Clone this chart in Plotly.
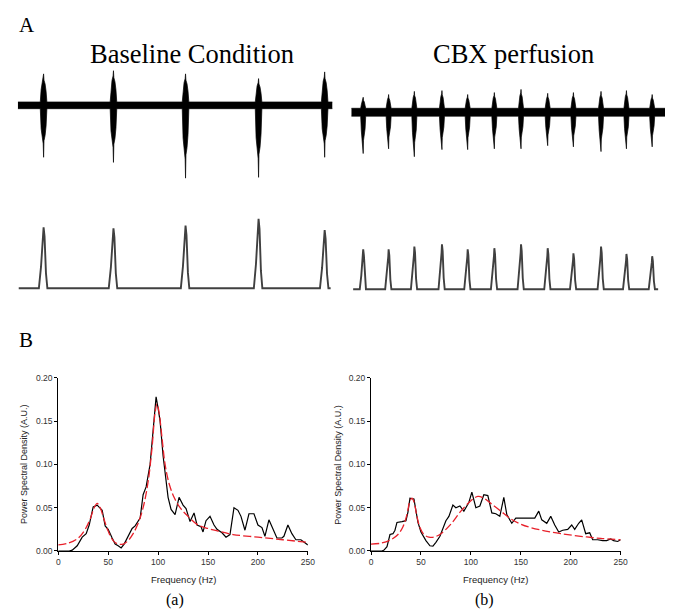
import plotly.graph_objects as go

W, H = 675, 616

# ---------------- Data ----------------
# Panel B (a): baseline power spectrum
FREQ_A = [0, 4, 8, 11, 14, 19, 24, 28, 31, 35, 39, 42, 44, 47, 50, 54, 57, 60, 63, 66, 70, 74, 77,
          82, 85, 88, 92, 95, 98, 100, 102, 105, 108, 110, 113, 117, 121, 125, 128, 132, 136, 139,
          143, 145, 148, 152, 156, 159, 164, 168, 172, 176, 180, 183, 187, 191, 196, 200, 204, 207,
          211, 214, 219, 224, 226, 230, 234, 238, 243, 250]
PSD_A = [0, 0, 0, 0, 0.001, 0.006, 0.016, 0.020, 0.030, 0.051, 0.053, 0.050, 0.047, 0.029, 0.025,
         0.015, 0.008, 0.006, 0.0035, 0.008, 0.018, 0.026, 0.029, 0.038, 0.065, 0.074, 0.100, 0.140,
         0.178, 0.165, 0.150, 0.110, 0.078, 0.062, 0.048, 0.042, 0.062, 0.053, 0.049, 0.034, 0.044,
         0.030, 0.028, 0.022, 0.035, 0.040, 0.030, 0.025, 0.021, 0.016, 0.019, 0.050, 0.047, 0.040,
         0.024, 0.043, 0.043, 0.030, 0.027, 0.017, 0.036, 0.028, 0.015, 0.015, 0.017, 0.030, 0.020,
         0.013, 0.013, 0.007]
FIT_FREQ_A = [0, 10, 20, 27, 32, 36, 39, 42, 46, 50, 55, 60, 65, 70, 75, 80, 85, 90, 94, 97, 99, 101,
              104, 107, 111, 116, 122, 130, 140, 150, 160, 175, 200, 225, 250]
FIT_A = [0.007, 0.009, 0.015, 0.025, 0.037, 0.050, 0.055, 0.050, 0.036, 0.023, 0.012, 0.008, 0.008,
         0.012, 0.020, 0.032, 0.050, 0.080, 0.120, 0.160, 0.170, 0.160, 0.130, 0.100, 0.078, 0.062,
         0.050, 0.040, 0.030, 0.026, 0.023, 0.019, 0.016, 0.013, 0.010]

# Panel B (b): CBX power spectrum
FREQ_B = [0, 4, 8, 11, 13, 16, 19, 22, 24, 26, 31, 35, 37, 39, 43, 45, 47, 50, 55, 59, 62, 65, 69,
          75, 78, 82, 85, 89, 93, 98, 101, 105, 109, 113, 117, 121, 125, 129, 133, 136, 141, 145,
          151, 156, 164, 168, 171, 176, 180, 184, 188, 192, 197, 201, 204, 208, 211, 215, 219, 222,
          227, 232, 236, 240, 243, 247, 250]
PSD_B = [0, 0, 0, 0, 0.001, 0.005, 0.019, 0.020, 0.024, 0.033, 0.034, 0.035, 0.045, 0.061, 0.060,
         0.045, 0.033, 0.022, 0.012, 0.006, 0.0055, 0.010, 0.017, 0.035, 0.040, 0.053, 0.050, 0.052,
         0.046, 0.056, 0.068, 0.050, 0.052, 0.065, 0.064, 0.044, 0.043, 0.040, 0.062, 0.042, 0.032,
         0.038, 0.038, 0.0385, 0.038, 0.046, 0.036, 0.032, 0.040, 0.030, 0.022, 0.024, 0.025, 0.030,
         0.025, 0.032, 0.036, 0.020, 0.021, 0.013, 0.013, 0.012, 0.012, 0.014, 0.012, 0.011, 0.013]
FIT_FREQ_B = [0, 10, 20, 27, 32, 36, 39, 41, 43, 46, 49, 53, 58, 63, 70, 80, 90, 100, 107, 113, 120,
              130, 140, 150, 160, 175, 190, 210, 230, 250]
FIT_B = [0.008, 0.009, 0.013, 0.019, 0.028, 0.042, 0.058, 0.061, 0.057, 0.040, 0.027, 0.019, 0.016,
         0.016, 0.020, 0.031, 0.046, 0.058, 0.063, 0.061, 0.055, 0.046, 0.037, 0.031, 0.027, 0.023,
         0.020, 0.017, 0.0145, 0.013]

# Panel A: recordings (time in s, raw in mV-like units, integrated in a.u.)
BASE_BURST_T = [0.82, 3.04, 5.33, 7.65, 9.75]
BASE_RAW_UP = [0.80, 0.88, 0.80, 0.68, 0.85]
BASE_RAW_DOWN = [1.32, 1.45, 1.85, 1.83, 1.32]
BASE_INT_PEAK = [1.07, 1.05, 1.10, 1.22, 1.02]
BASE_RAW_NOISE = 0.085

CBX_BURST_T = [0.38, 1.19, 2.01, 2.89, 3.71, 4.56, 5.41, 6.26, 7.08, 7.96, 8.77, 9.59]
CBX_RAW_UP = [0.38, 0.45, 0.53, 0.55, 0.45, 0.50, 0.58, 0.48, 0.50, 0.53, 0.55, 0.45]
CBX_RAW_DOWN = [1.05, 0.93, 1.13, 0.95, 0.95, 0.93, 0.93, 0.85, 0.88, 1.00, 0.93, 0.88]
CBX_INT_PEAK = [0.70, 0.70, 0.75, 0.79, 0.70, 0.72, 0.79, 0.72, 0.63, 0.75, 0.62, 0.58]
CBX_RAW_NOISE = 0.10

# ---------------- Styles / shapes ----------------
RAW_OFFS = [-1.0, -0.75, -0.45, -0.12, 0.0, 0.12, 0.45, 0.75, 1.0]
RAW_UP_FRAC = [0, 0.5, 0.72, 0.85, 1.0, 0.8, 0.68, 0.45, 0]
RAW_DOWN_FRAC = [0, 0.45, 0.65, 0.74, 1.0, 0.68, 0.58, 0.4, 0]
INT_OFFS = [-1.0, -0.55, -0.3, -0.1, 0.0, 0.2, 0.5, 0.8]
INT_FRAC = [0, 0.35, 0.68, 0.82, 1.0, 0.85, 0.25, 0]

SANS = "Liberation Sans, Arial, sans-serif"
SERIF = "Liberation Serif, Times New Roman, serif"


def px(p):
    return p / W


def py(p):
    return 1 - p / H


def raw_envelope(times, ups, downs, noise, t0, t1, hw):
    xs, upper, lower = [t0], [noise], [-noise]
    for t, u, d in zip(times, ups, downs):
        for o, fu, fd in zip(RAW_OFFS, RAW_UP_FRAC, RAW_DOWN_FRAC):
            xs.append(t + o * hw)
            upper.append(max(noise, fu * u))
            lower.append(-max(noise, fd * d))
    xs.append(t1)
    upper.append(noise)
    lower.append(-noise)
    return xs, upper, lower


def int_curve(times, peaks, t0, t1, hw):
    xs, ys = [t0], [0]
    for t, p in zip(times, peaks):
        for o, f in zip(INT_OFFS, INT_FRAC):
            xs.append(t + o * hw)
            ys.append(f * p)
    xs.append(t1)
    ys.append(0)
    return xs, ys


fig = go.Figure()

# Spectra
fig.add_trace(go.Scatter(x=FREQ_A, y=PSD_A, mode="lines", line=dict(color="black", width=1.2),
                         xaxis="x", yaxis="y"))
fig.add_trace(go.Scatter(x=FIT_FREQ_A, y=FIT_A, mode="lines",
                         line=dict(color="#e8202a", width=1.3, dash="8px,3px", shape="spline"),
                         xaxis="x", yaxis="y"))
fig.add_trace(go.Scatter(x=FREQ_B, y=PSD_B, mode="lines", line=dict(color="black", width=1.2),
                         xaxis="x2", yaxis="y2"))
fig.add_trace(go.Scatter(x=FIT_FREQ_B, y=FIT_B, mode="lines",
                         line=dict(color="#e8202a", width=1.3, dash="8px,3px", shape="spline"),
                         xaxis="x2", yaxis="y2"))

# Recordings
for (times, ups, downs, noise, xa, ya, hw) in [
    (BASE_BURST_T, BASE_RAW_UP, BASE_RAW_DOWN, BASE_RAW_NOISE, "x3", "y3", 0.105),
    (CBX_BURST_T, CBX_RAW_UP, CBX_RAW_DOWN, CBX_RAW_NOISE, "x4", "y5", 0.08),
]:
    xs, up, lo = raw_envelope(times, ups, downs, noise, 0.0, 10.0, hw)
    fig.add_trace(go.Scatter(x=xs, y=lo, mode="lines", line=dict(color="black", width=0.7),
                             xaxis=xa, yaxis=ya))
    fig.add_trace(go.Scatter(x=xs, y=up, mode="lines", line=dict(color="black", width=0.7),
                             fill="tonexty", fillcolor="black", xaxis=xa, yaxis=ya))

for (times, peaks, t0, t1, xa, ya, hw) in [
    (BASE_BURST_T, BASE_INT_PEAK, 0.03, 9.94, "x3", "y4", 0.15),
    (CBX_BURST_T, CBX_INT_PEAK, 0.06, 9.78, "x4", "y6", 0.11),
]:
    xs, ys = int_curve(times, peaks, t0, t1, hw)
    fig.add_trace(go.Scatter(x=xs, y=ys, mode="lines", line=dict(color="#404040", width=1.9),
                             xaxis=xa, yaxis=ya))

spec_ax = dict(showline=True, linecolor="black", linewidth=1, ticks="outside", ticklen=3,
               tickwidth=1, tickcolor="black", showgrid=False, zeroline=False,
               tickfont=dict(family=SANS, size=8.5, color="#333333"))
hidden = dict(visible=False, showgrid=False, zeroline=False, fixedrange=True)

fig.update_layout(
    width=W, height=H, margin=dict(l=0, r=0, t=0, b=0),
    paper_bgcolor="white", plot_bgcolor="rgba(0,0,0,0)", showlegend=False,
    xaxis=dict(domain=[px(57), px(310)], range=[0, 250], anchor="y",
               tickvals=[0, 50, 100, 150, 200, 250], **spec_ax),
    yaxis=dict(domain=[py(555), py(379)], range=[0, 0.2], anchor="x",
               tickvals=[0, 0.05, 0.1, 0.15, 0.2], tickformat=".2f", **spec_ax),
    xaxis2=dict(domain=[px(374), px(627)], range=[0, 250], anchor="y2",
                tickvals=[0, 50, 100, 150, 200, 250], **spec_ax),
    yaxis2=dict(domain=[py(555), py(379)], range=[0, 0.2], anchor="x2",
                tickvals=[0, 0.05, 0.1, 0.15, 0.2], tickformat=".2f", **spec_ax),
    xaxis3=dict(domain=[px(16), px(335)], range=[0, 10], anchor="y3", **hidden),
    yaxis3=dict(domain=[py(190), py(60)], range=[-(190 - 102) / 40, (102 - 60) / 40],
                anchor="x3", **hidden),
    yaxis4=dict(domain=[py(300), py(200)], range=[-(300 - 288) / 58, (288 - 200) / 58],
                anchor="x3", **hidden),
    xaxis4=dict(domain=[px(354), px(672)], range=[0, 10], anchor="y5", **hidden),
    yaxis5=dict(domain=[py(190), py(60)], range=[-(190 - 109) / 40, (109 - 60) / 40],
                anchor="x4", **hidden),
    yaxis6=dict(domain=[py(300), py(200)], range=[-(300 - 289) / 58, (289 - 200) / 58],
                anchor="x4", **hidden),
)


def ann(text, x, y, size, family, xanchor="center", angle=0, color="black"):
    fig.add_annotation(text=text, x=px(x), y=py(y), xref="paper", yref="paper",
                       xanchor=xanchor, yanchor="middle", showarrow=False, textangle=angle,
                       font=dict(family=family, size=size, color=color))


ann("A", 15, 20, 21, SERIF, xanchor="left")
ann("B", 15, 341, 21, SERIF, xanchor="left")
ann("Baseline Condition", 193, 50, 26.5, SERIF)
ann("CBX perfusion", 518, 50, 26.5, SERIF)
ann("Frequency (Hz)", 184, 584, 9.5, SANS, color="#222222")
ann("Frequency (Hz)", 500, 584, 9.5, SANS, color="#222222")
ann("Power Spectral Density (A.U.)", 23, 467, 9, SANS, angle=-90, color="#222222")
ann("Power Spectral Density (A.U.)", 341, 467, 9, SANS, angle=-90, color="#222222")
ann("(a)", 175, 605, 16, SERIF)
ann("(b)", 489, 605, 16, SERIF)

fig.write_html(
    "out.html",
    config={"displayModeBar": False},
    post_script="document.body.style.margin='0';document.body.style.padding='0';"
                "document.body.style.overflow='hidden';",
)
